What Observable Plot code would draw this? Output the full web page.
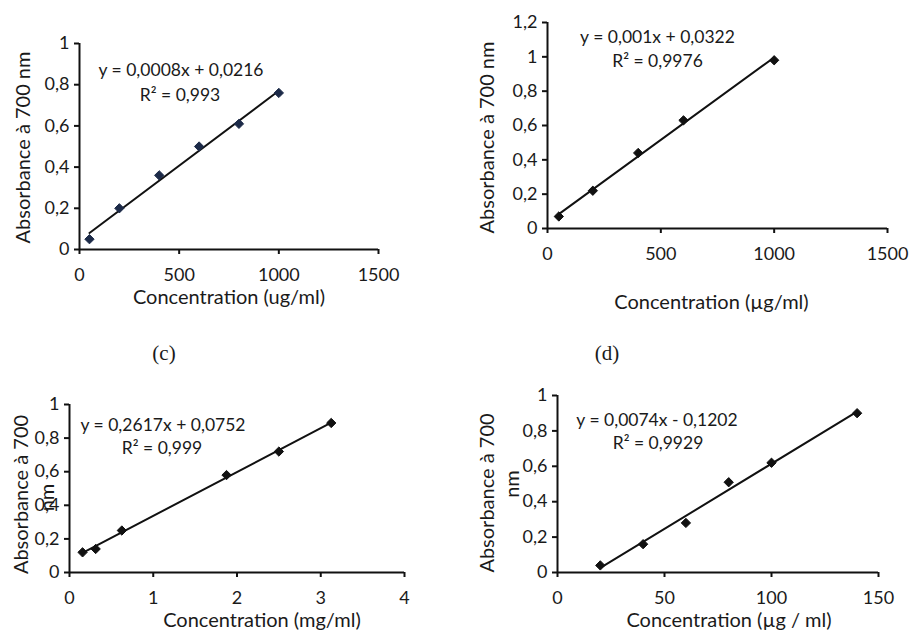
<!DOCTYPE html>
<html>
<head>
<meta charset="utf-8">
<script src="https://cdn.jsdelivr.net/npm/d3@7"></script>
<script src="https://cdn.jsdelivr.net/npm/@observablehq/plot@0.6"></script>
<style>
  html, body { margin: 0; padding: 0; background: #fff; }
  #wrap { position: relative; width: 909px; height: 633px; background: #fff; overflow: hidden; }
  #wrap svg { position: absolute; }
  .lab { position: absolute; font-family: "Liberation Serif", "DejaVu Serif", serif; font-size: 21px; color: #1a1a1a; transform: translate(-50%, -50%); }
</style>
</head>
<body>
<div id="wrap">
  <div class="lab" id="labC">(c)</div>
  <div class="lab" id="labD">(d)</div>
</div>
<script>
// ---------- DATA ----------
// Panel (a) - top left
const aConc = [50, 200, 400, 600, 800, 1000];
const aAbs  = [0.05, 0.20, 0.36, 0.50, 0.61, 0.76];
const aXTicks = [0, 500, 1000, 1500];
const aYTicks = [0, 0.2, 0.4, 0.6, 0.8, 1];
const aEquation = "y = 0,0008x + 0,0216";
const aR2 = "R² = 0,993";
const aXTitle = "Concentration (ug/ml)";
const aYTitle = ["Absorbance à 700 nm"];

// Panel (b) - top right
const bConc = [50, 200, 400, 600, 1000];
const bAbs  = [0.07, 0.22, 0.44, 0.63, 0.98];
const bXTicks = [0, 500, 1000, 1500];
const bYTicks = [0, 0.2, 0.4, 0.6, 0.8, 1, 1.2];
const bEquation = "y = 0,001x + 0,0322";
const bR2 = "R² = 0,9976";
const bXTitle = "Concentration (µg/ml)";
const bYTitle = ["Absorbance à 700 nm"];

// Panel (c) - bottom left
const cConc = [0.156, 0.3125, 0.625, 1.875, 2.5, 3.125];
const cAbs  = [0.12, 0.14, 0.25, 0.58, 0.72, 0.89];
const cXTicks = [0, 1, 2, 3, 4];
const cYTicks = [0, 0.2, 0.4, 0.6, 0.8, 1];
const cEquation = "y = 0,2617x + 0,0752";
const cR2 = "R² = 0,999";
const cXTitle = "Concentration (mg/ml)";
const cYTitle = ["Absorbance à 700", "nm"];

// Panel (d) - bottom right
const dConc = [20, 40, 60, 80, 100, 140];
const dAbs  = [0.04, 0.16, 0.28, 0.51, 0.62, 0.90];
const dXTicks = [0, 50, 100, 150];
const dYTicks = [0, 0.2, 0.4, 0.6, 0.8, 1];
const dEquation = "y = 0,0074x - 0,1202";
const dR2 = "R² = 0,9929";
const dXTitle = "Concentration (µg / ml)";
const dYTitle = ["Absorbance à 700", "nm"];

const panelLabels = ["(c)", "(d)"];

// ---------- LAYOUT ----------
const FONT = "Lato, 'Open Sans', sans-serif";
const TICK_FS = 18, TITLE_FS = 20, EQ_FS = 17.5;
const INK = "#1a1a1a";
const comma = d => String(d).replace(".", ",");

function panel(o) {
  const data = o.conc.map((c, i) => ({c, a: o.abs[i]}));
  const marks = [
    Plot.axisX({ticks: o.xTicks, tickSize: 5, tickPadding: 14, tickFormat: comma, label: null,
      fontSize: TICK_FS, stroke: "#111", strokeWidth: 2, fill: INK}),
    Plot.axisY({ticks: o.yTicks, tickSize: 5, tickPadding: 5, tickFormat: comma, label: null,
      fontSize: TICK_FS, stroke: "#111", strokeWidth: 2, fill: INK}),
    Plot.ruleY([o.yDomain[0]], {stroke: "#111", strokeWidth: 2}),
    Plot.ruleX([o.xDomain[0]], {stroke: "#111", strokeWidth: 2}),
    Plot.linearRegressionY(data, {x: "c", y: "a", ci: 0, stroke: "#111", strokeWidth: 2}),
    Plot.dot(data, {x: "c", y: "a", symbol: "diamond2", fill: o.color, stroke: o.color, strokeWidth: 1, r: 4.2}),
    Plot.text([o.xTitle], {text: d => d, frameAnchor: "bottom", textAnchor: "middle", lineAnchor: "middle",
      dx: o.xtDx, dy: o.xtDy, fontSize: TITLE_FS, fill: INK}),
    Plot.text([o.eq], {text: d => d, frameAnchor: "top", textAnchor: "middle", lineAnchor: "middle",
      dx: o.eqDx, dy: o.eqDy, fontSize: EQ_FS, fill: INK}),
    Plot.text([o.r2], {text: d => d, frameAnchor: "top", textAnchor: "middle", lineAnchor: "middle",
      dx: o.r2Dx, dy: o.r2Dy, fontSize: EQ_FS, fill: INK})
  ];
  o.yTitle.forEach((t, i) => {
    marks.push(Plot.text([t], {text: d => d, frameAnchor: "left", rotate: -90, textAnchor: "middle", lineAnchor: "middle",
      dx: o.ytDx[i], dy: o.ytDy[i], fontSize: TITLE_FS, fill: INK}));
  });
  const svg = Plot.plot({
    width: o.w, height: o.h,
    marginLeft: o.m[0], marginRight: o.m[1], marginTop: o.m[2], marginBottom: o.m[3],
    x: {domain: o.xDomain, axis: null},
    y: {domain: o.yDomain, axis: null},
    style: {fontFamily: FONT, fontSize: TICK_FS + "px", background: "transparent", overflow: "visible"},
    marks
  });
  svg.style.left = o.left + "px";
  svg.style.top = o.top + "px";
  document.getElementById("wrap").appendChild(svg);
}

panel({conc: aConc, abs: aAbs, xTicks: aXTicks, yTicks: aYTicks, xDomain: [0, 1500], yDomain: [0, 1],
  eq: aEquation, r2: aR2, xTitle: aXTitle, yTitle: aYTitle, color: "#1c2a48",
  left: 0, top: 30, w: 420, h: 280, m: [79, 42, 13, 61],
  xtDx: 0, xtDy: 48, eqDx: -48, eqDy: 27, r2Dx: -49, r2Dy: 52, ytDx: [-56], ytDy: [1]});

panel({conc: bConc, abs: bAbs, xTicks: bXTicks, yTicks: bYTicks, xDomain: [0, 1500], yDomain: [0, 1.2],
  eq: bEquation, r2: bR2, xTitle: bXTitle, yTitle: bYTitle, color: "#111",
  left: 440, top: 0, w: 469, h: 320, m: [107, 22, 22, 92],
  xtDx: -6, xtDy: 74, eqDx: -60, eqDy: 15, r2Dx: -60, r2Dy: 39, ytDx: [-60], ytDy: [12]});

panel({conc: cConc, abs: cAbs, xTicks: cXTicks, yTicks: cYTicks, xDomain: [0, 4], yDomain: [0, 1],
  eq: cEquation, r2: cR2, xTitle: cXTitle, yTitle: cYTitle, color: "#111",
  left: 0, top: 380, w: 440, h: 253, m: [69, 36, 24, 61],
  xtDx: 25, xtDy: 48, eqDx: -74, eqDy: 21, r2Dx: -75, r2Dy: 44, ytDx: [-48, -22], ytDy: [6, 9]});

panel({conc: dConc, abs: dAbs, xTicks: dXTicks, yTicks: dYTicks, xDomain: [0, 150], yDomain: [0, 1],
  eq: dEquation, r2: dR2, xTitle: dXTitle, yTitle: dYTitle, color: "#111",
  left: 440, top: 380, w: 469, h: 253, m: [117, 31, 15, 61],
  xtDx: 11, xtDy: 48, eqDx: -61, eqDy: 25, r2Dx: -60, r2Dy: 48, ytDx: [-70, -45], ytDy: [9, 0]});

const labC = document.getElementById("labC");
labC.textContent = panelLabels[0];
labC.style.left = "164px"; labC.style.top = "353px";
const labD = document.getElementById("labD");
labD.textContent = panelLabels[1];
labD.style.left = "607px"; labD.style.top = "353px";
</script>
</body>
</html>
